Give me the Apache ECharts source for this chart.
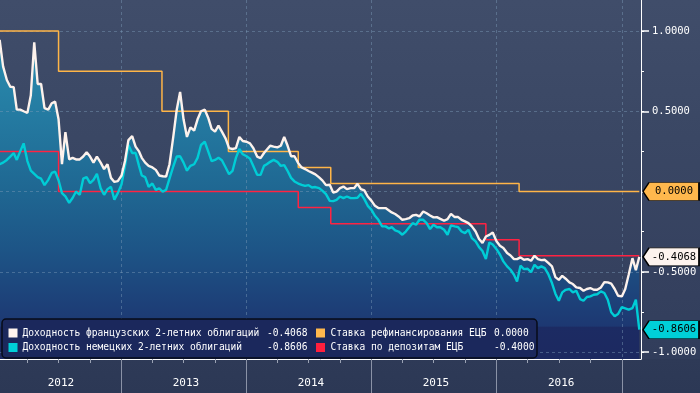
<!DOCTYPE html>
<html><head><meta charset="utf-8">
<script src="https://cdn.jsdelivr.net/npm/echarts@6/dist/echarts.min.js"></script>
<style>html,body{margin:0;padding:0;background:#36425f}#c{width:700px;height:393px}</style>
</head><body><div id="c"></div><script>
// ---- data ----
const months = ['2012-01','2012-02','2012-03','2012-04','2012-05','2012-06','2012-07','2012-08','2012-09','2012-10','2012-11','2012-12',
'2013-01','2013-02','2013-03','2013-04','2013-05','2013-06','2013-07','2013-08','2013-09','2013-10','2013-11','2013-12',
'2014-01','2014-02','2014-03','2014-04','2014-05','2014-06','2014-07','2014-08','2014-09','2014-10','2014-11','2014-12',
'2015-01','2015-02','2015-03','2015-04','2015-05','2015-06','2015-07','2015-08','2015-09','2015-10','2015-11','2015-12',
'2016-01','2016-02','2016-03','2016-04','2016-05','2016-06','2016-07','2016-08','2016-09','2016-10','2016-11','2016-12',
'2017-01','2017-02'];
const days = ['01','11','21'];
const frYield = [
0.90,0.944,0.78, 0.695,0.653,0.65, 0.51,0.51,0.50, 0.49,0.60,0.93, 0.67,0.67,0.52, 0.51,0.55,0.56,
0.45,0.17,0.37, 0.20,0.21,0.20, 0.20,0.218,0.245, 0.218,0.18,0.218, 0.18,0.14,0.17, 0.085,0.06,0.065,
0.10,0.19,0.32, 0.345,0.28,0.25, 0.21,0.18,0.16, 0.15,0.135,0.10, 0.095,0.093,0.17, 0.34,0.508,0.62,
0.45,0.34,0.40, 0.38,0.45,0.50, 0.51,0.46,0.39, 0.373,0.41,0.373, 0.33,0.27,0.265, 0.27,0.34,0.315,
0.31,0.30,0.27, 0.218,0.208,0.24, 0.26,0.285,0.28, 0.275,0.285,0.34, 0.285,0.22,0.22, 0.177,0.15,0.14,
0.128,0.118,0.107, 0.088,0.068,0.04, 0.042,-0.006,0.0, 0.021,0.031,0.015, 0.021,0.021,0.048, 0.015,0.007,-0.031,
-0.058,-0.089,-0.103, -0.103,-0.103,-0.118, -0.13,-0.14,-0.155, -0.176,-0.172,-0.166, -0.149,-0.145,-0.155, -0.124,-0.135,-0.149,
-0.161,-0.159,-0.17, -0.182,-0.172,-0.139, -0.159,-0.159,-0.176, -0.186,-0.197,-0.217, -0.249,-0.296,-0.32, -0.28,-0.27,-0.255,
-0.31,-0.338,-0.352, -0.383,-0.398,-0.421, -0.421,-0.41,-0.425, -0.421,-0.431,-0.40, -0.421,-0.427,-0.425, -0.446,-0.466,-0.533,
-0.55,-0.525,-0.543, -0.566,-0.576,-0.597, -0.601,-0.618,-0.607, -0.601,-0.612,-0.612, -0.597,-0.564,-0.566, -0.574,-0.607,-0.649,
-0.653,-0.607,-0.518, -0.415,-0.49,-0.4068];
const deYield = [
0.16,0.17,0.18, 0.197,0.218,0.24, 0.197,0.25,0.30, 0.19,0.13,0.11, 0.09,0.08,0.04, 0.073,0.116,0.124,
0.07,-0.01,-0.03, -0.07,-0.04,0.0, -0.02,0.08,0.09, 0.052,0.073,0.11, 0.02,-0.02,0.015, 0.03,-0.05,-0.01,
0.045,0.16,0.29, 0.24,0.24,0.16, 0.10,0.09,0.03, 0.05,0.01,0.02, 0.0,0.01,0.08, 0.156,0.218,0.22,
0.18,0.13,0.16, 0.17,0.21,0.29, 0.31,0.25,0.19, 0.197,0.21,0.195, 0.15,0.108,0.128, 0.21,0.265,0.232,
0.22,0.205,0.157, 0.104,0.104,0.16, 0.17,0.185,0.197, 0.185,0.16,0.165, 0.128,0.085,0.063, 0.05,0.042,0.035,
0.04,0.025,0.028, 0.021,0.004,-0.016, -0.058,-0.06,-0.052, -0.031,-0.041,-0.031, -0.041,-0.041,-0.039, -0.014,-0.047,-0.089,
-0.114,-0.151,-0.176, -0.217,-0.217,-0.23, -0.222,-0.242,-0.249, -0.269,-0.249,-0.222, -0.197,-0.207,-0.176, -0.176,-0.197,-0.234,
-0.207,-0.222,-0.222, -0.238,-0.269,-0.211, -0.217,-0.222,-0.249, -0.259,-0.238,-0.29, -0.311,-0.346,-0.37, -0.42,-0.317,-0.33,
-0.359,-0.392,-0.435, -0.466,-0.487,-0.518, -0.56,-0.462,-0.483, -0.481,-0.502,-0.456, -0.477,-0.466,-0.477, -0.518,-0.57,-0.636,
-0.68,-0.628,-0.612, -0.607,-0.628,-0.618, -0.67,-0.68,-0.657, -0.653,-0.643,-0.64, -0.622,-0.632,-0.674, -0.752,-0.777,-0.763,
-0.72,-0.728,-0.736, -0.726,-0.674,-0.8606];
const refiDates = ['2012-01-01','2012-07-01','2013-04-29','2013-11-09','2014-06-01','2014-09-04','2016-03-07','2017-02-21'];
const refiRate  = [1.0, 0.75, 0.5, 0.25, 0.15, 0.05, 0.0, 0.0];
const depoDates = ['2012-01-01','2012-07-01','2014-06-01','2014-09-04','2015-12-01','2016-03-07','2017-02-21'];
const depoRate  = [0.25, 0.0, -0.1, -0.2, -0.3, -0.4, -0.4];
const seriesNames = ['Доходность французских 2-летних облигаций','Доходность немецких 2-летних облигаций',
                     'Ставка рефинансирования ЕЦБ','Ставка по депозитам ЕЦБ'];
const lastValues = [-0.4068, -0.8606, 0.0000, -0.4000];
const yMinorTicks = [-1,-0.75,-0.5,-0.25,0,0.25,0.5,0.75,1];
const yMajorTicks = [-1,-0.5,0,0.5,1];
const quarterTicks = ['2012-04-01','2012-07-01','2012-10-01','2013-01-01','2013-04-01','2013-07-01','2013-10-01',
 '2014-01-01','2014-04-01','2014-07-01','2014-10-01','2015-01-01','2015-04-01','2015-07-01','2015-10-01',
 '2016-01-01','2016-04-01','2016-07-01','2016-10-01','2017-01-01'];
const yearStarts = ['2013-01-01','2014-01-01','2015-01-01','2016-01-01','2017-01-01'];
const yearLabelDates = ['2012-07-08','2013-07-08','2014-07-08','2015-07-08','2016-07-08'];
const axisStart = '2012-01-12', axisEnd = '2017-02-26';
const yMin = -1.043, yMax = 1.193;

// ---- build ----
const ts = s => Date.UTC(+s.slice(0, 4), +s.slice(5, 7) - 1, +s.slice(8, 10));
const dates = [];
months.forEach(m => days.forEach(d => dates.push(m + '-' + d)));
const frData = dates.map((d, i) => [ts(d), frYield[i]]);
const deData = dates.map((d, i) => [ts(d), deYield[i]]);
const refiData = refiDates.map((d, i) => [ts(d), refiRate[i]]);
const depoData = depoDates.map((d, i) => [ts(d), depoRate[i]]);
const MONO = '"DejaVu Sans Mono", monospace';
const fmt = v => v.toFixed(4);
const xMin = ts(axisStart), xMax = ts(axisEnd);

function badge(value, fill, textColor) {
  return {
    symbol: 'path://M0,9 L6,0 L56,0 L56,18 L6,18 Z',
    symbolSize: [56, 18],
    symbolOffset: [30, 0],
    silent: true,
    data: [{ coord: [xMax, value], value: value }],
    itemStyle: { color: fill, borderColor: '#000', borderWidth: 1 },
    label: { show: true, position: 'inside', offset: [3, 0], color: textColor,
             fontFamily: MONO, fontSize: 10.5, formatter: () => fmt(value) }
  };
}

const gridLine = { show: true, lineStyle: { color: 'rgba(125,155,185,0.45)', type: [3, 3], width: 1 } };

const chart = echarts.init(document.getElementById('c'), null, { renderer: 'canvas' });
chart.setOption({
  animation: false,
  backgroundColor: new echarts.graphic.LinearGradient(0, 0, 0, 1, [
    { offset: 0, color: '#404d6a' }, { offset: 0.35, color: '#3a4764' },
    { offset: 0.7, color: '#35415f' }, { offset: 0.913, color: '#313d5b' },
    { offset: 0.914, color: '#2e3a57' }, { offset: 1, color: '#2c3855' }]),
  grid: { left: 0, right: 59, top: 0, bottom: 34 },
  xAxis: [
    { type: 'value', min: xMin, max: xMax, position: 'bottom', scale: true,
      axisLine: { show: true, onZero: false, lineStyle: { color: '#ffffff', width: 1 } },
      axisTick: { show: true, length: 4, lineStyle: { color: '#9aa2b4' }, customValues: quarterTicks.map(ts) },
      axisLabel: { show: true, customValues: yearLabelDates.map(ts), color: '#ffffff', fontFamily: MONO,
                   fontSize: 11, margin: 19, formatter: v => String(new Date(v).getUTCFullYear()) },
      splitLine: { show: false } },
    { type: 'value', min: xMin, max: xMax, position: 'bottom', z: 2, scale: true,
      axisLine: { show: false, onZero: false },
      axisTick: { show: true, length: 34, lineStyle: { color: '#8a92a6', width: 1 }, customValues: yearStarts.map(ts) },
      axisLabel: { show: false },
      splitLine: gridLine }
  ],
  yAxis: [
    { type: 'value', min: yMin, max: yMax, position: 'right',
      axisLine: { show: true, onZero: false, lineStyle: { color: '#ffffff', width: 1 } },
      axisTick: { show: true, length: 3, inside: false, lineStyle: { color: '#ffffff' }, customValues: yMinorTicks },
      axisLabel: { show: true, customValues: yMajorTicks, color: '#ffffff', fontFamily: MONO, fontSize: 10.5,
                   margin: 11, formatter: fmt },
      splitLine: { show: false } },
    { type: 'value', min: yMin, max: yMax, position: 'right', z: 2,
      axisLine: { show: false, onZero: false },
      axisTick: { show: true, length: 8, lineStyle: { color: '#ffffff', width: 1.5 }, customValues: yMajorTicks },
      axisLabel: { show: false },
      splitLine: gridLine }
  ],
  series: [
    { name: 'fill', type: 'line', data: frData, showSymbol: false, z: 1, silent: true,
      lineStyle: { width: 0, opacity: 0 },
      areaStyle: { origin: 'start', opacity: 1, color: new echarts.graphic.LinearGradient(0, 0, 0, 359, [
        { offset: 0, color: '#2c96b5' }, { offset: 0.12, color: '#2a8dae' },
        { offset: 0.33, color: '#247aa1' }, { offset: 0.53, color: '#1f6792' },
        { offset: 0.70, color: '#1d5486' }, { offset: 0.84, color: '#1d4179' },
        { offset: 0.908, color: '#1d3872' }, { offset: 0.912, color: '#1c2b63' },
        { offset: 1, color: '#1c2960' }], true) } },
    { name: seriesNames[3], type: 'line', data: depoData, step: 'end', showSymbol: false, z: 3,
      lineStyle: { color: '#ff2342', width: 1.5 } },
    { name: seriesNames[2], type: 'line', data: refiData, step: 'end', showSymbol: false, z: 3,
      lineStyle: { color: '#ffb547', width: 1.5 },
      markPoint: badge(lastValues[2], '#ffb84d', '#000000') },
    { name: seriesNames[1], type: 'line', data: deData, showSymbol: false, z: 4,
      lineStyle: { color: '#00cdd6', width: 2.4 },
      markPoint: badge(lastValues[1], '#00d0d8', '#000000') },
    { name: seriesNames[0], type: 'line', data: frData, showSymbol: false, z: 5,
      lineStyle: { color: '#fdf2ec', width: 2.4 },
      markPoint: badge(lastValues[0], '#fdf3ee', '#000000') }
  ],
  graphic: [
    { type: 'rect', z: 100, shape: { x: 2, y: 319, width: 535, height: 39, r: 4 },
      style: { fill: '#1b285c', stroke: '#070b18', lineWidth: 1.5 } },
    { type: 'rect', z: 101, shape: { x: 8.5, y: 328.5, width: 9, height: 9 }, style: { fill: '#fff4ee' } },
    { type: 'rect', z: 101, shape: { x: 8.5, y: 343, width: 9, height: 9 }, style: { fill: '#00d0d8' } },
    { type: 'rect', z: 101, shape: { x: 316, y: 328.5, width: 9, height: 9 }, style: { fill: '#ffb84d' } },
    { type: 'rect', z: 101, shape: { x: 316, y: 343, width: 9, height: 9 }, style: { fill: '#ff1f3d' } },
    { type: 'text', z: 101, x: 22.5, y: 333, style: { text: seriesNames[0], fill: '#fff', font: '9.6px ' + MONO, verticalAlign: 'middle' } },
    { type: 'text', z: 101, x: 22.5, y: 347.5, style: { text: seriesNames[1], fill: '#fff', font: '9.6px ' + MONO, verticalAlign: 'middle' } },
    { type: 'text', z: 101, x: 267, y: 333, style: { text: fmt(lastValues[0]), fill: '#fff', font: '9.6px ' + MONO, verticalAlign: 'middle' } },
    { type: 'text', z: 101, x: 267, y: 347.5, style: { text: fmt(lastValues[1]), fill: '#fff', font: '9.6px ' + MONO, verticalAlign: 'middle' } },
    { type: 'text', z: 101, x: 330.5, y: 333, style: { text: seriesNames[2], fill: '#fff', font: '9.6px ' + MONO, verticalAlign: 'middle' } },
    { type: 'text', z: 101, x: 330.5, y: 347.5, style: { text: seriesNames[3], fill: '#fff', font: '9.6px ' + MONO, verticalAlign: 'middle' } },
    { type: 'text', z: 101, x: 494, y: 333, style: { text: fmt(lastValues[2]), fill: '#fff', font: '9.6px ' + MONO, verticalAlign: 'middle' } },
    { type: 'text', z: 101, x: 494, y: 347.5, style: { text: fmt(lastValues[3]), fill: '#fff', font: '9.6px ' + MONO, verticalAlign: 'middle' } }
  ]
});
</script></body></html>
